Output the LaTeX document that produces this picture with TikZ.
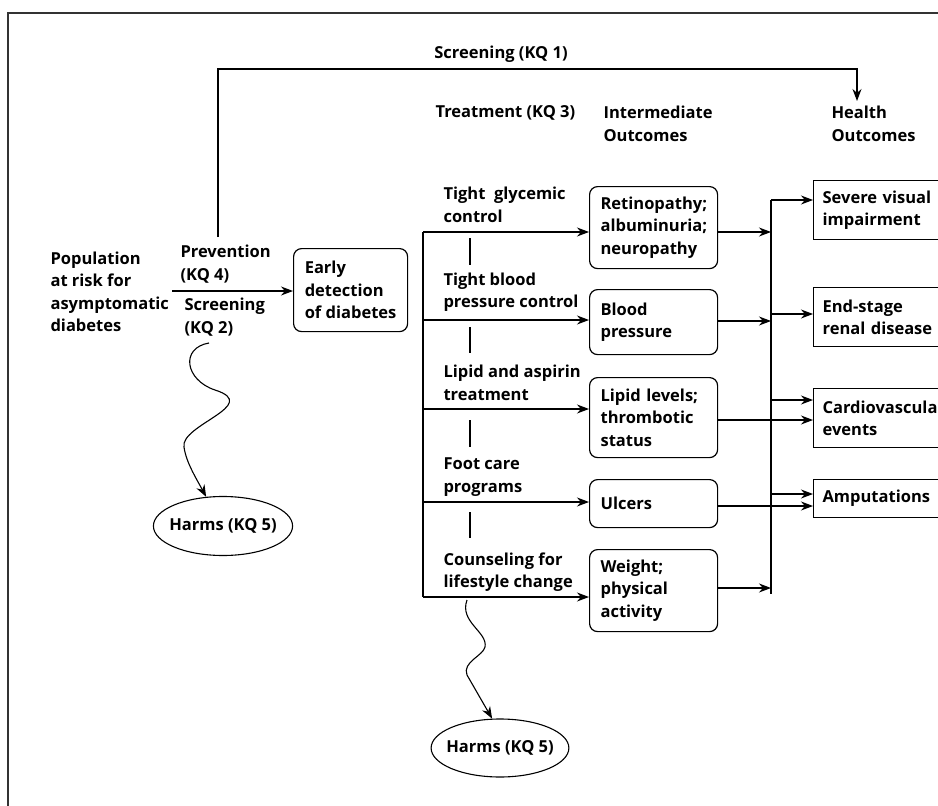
\documentclass[tikz,border=0pt]{standalone}
\usepackage{fontspec}
\setmainfont{Open Sans}
\usetikzlibrary{arrows.meta,shapes.geometric}
\begin{document}
\begin{tikzpicture}[x=1pt,y=-1pt,
  font=\fontsize{16.5}{22.5}\selectfont\bfseries,
  line width=1.1pt,
  lbl/.style={inner sep=0pt, align=left, anchor=west},
  arr/.style={-{Stealth[length=12pt,width=9pt]}},
  ibox/.style={draw, rounded corners=8pt, line width=1.2pt, text width=106pt, inner xsep=11pt, inner ysep=0pt, align=left, anchor=north west},
  hbox/.style={draw, line width=1.2pt, text width=140pt, inner xsep=9pt, inner ysep=0pt, align=left, anchor=north west},
  harm/.style={draw, ellipse, inner ysep=0pt, line width=1.1pt}
]
\useasboundingbox (0,0) rectangle (938,806);
\clip (0,0) rectangle (938,806);
% frame
\draw[line width=1.4pt, black!80] (8,820) -- (8,13) -- (950,13);

% left part
\node[lbl] (pop) at (50,292) {Population\\at risk for\\asymptomatic\\diabetes};
\node[lbl] (prev) at (180,264) {Prevention\\(KQ 4)};
\node[lbl] (scr2) at (184,317) {Screening\\(KQ 2)};
\node[draw, rounded corners=8pt, line width=1.2pt, anchor=north west, minimum width=114pt, minimum height=83pt, inner xsep=0pt, inner ysep=0pt, align=left] (early) at (293,248) {Early\\detection\\of diabetes};
\coordinate (popout) at (172,291);
\draw[arr] (popout) -- (popout -| early.west);

\node[harm, inner xsep=-4.5pt, minimum height=59pt] (harms1) at (223,526) {Harms (KQ 5)};
\coordinate (w1s) at (209,343);
\draw[arr] (w1s) .. controls (180,348) and (185,380) .. (215,390)
  .. controls (262,405) and (180,425) .. (184,447)
  .. controls (186,462) and (196,478) .. (harms1.120);

% KQ1
\node[anchor=center, inner sep=0pt] (kq1) at (501,54) {Screening (KQ 1)};
\coordinate (kq1s) at (218,237);
\coordinate (kq1c) at (857,69);
\coordinate (kq1t) at (857,101);
\draw[arr] (kq1s) |- (kq1c) -- (kq1t);

% headers
\node[lbl] (trt) at (435,113) {Treatment (KQ 3)};
\node[lbl] (imo) at (603,124) {Intermediate\\Outcomes};
\node[lbl] (hoh) at (831,124) {Health\\Outcomes};

% treatment labels
\node[lbl] (t1) at (443,205) {Tight\ \ glycemic\\control};
\node[lbl] (t2) at (443,292) {Tight blood\\pressure control};
\node[lbl] (t3) at (443,383) {Lipid and aspirin\\treatment};
\node[lbl] (t4) at (443,477) {Foot care\\programs};
\node[lbl] (t5) at (443,572) {Counseling for\\lifestyle change};

% ticks
\foreach \a/\b in {238/265, 327/353, 420/447, 512/538}
  \draw (470,\a) -- (470,\b);

% intermediate boxes
\node[ibox, minimum height=82pt] (ib1) at (589,186) {Retinopathy;\\albuminuria;\\neuropathy};
\node[ibox, minimum height=65pt] (ib2) at (589,289) {Blood\\pressure};
\node[ibox, minimum height=80pt] (ib3) at (589,377) {Lipid levels;\\thrombotic\\status};
\node[ibox, minimum height=48pt] (ib4) at (589,479) {Ulcers};
\node[ibox, minimum height=82pt] (ib5) at (589,549) {Weight;\\physical\\activity};

% treatment bar
\coordinate (tb1) at (423,232);
\coordinate (tb2) at (423,320);
\coordinate (tb3) at (423,409);
\coordinate (tb4) at (423,502);
\coordinate (tb5) at (423,597);
\draw (tb1) -- (tb5);
\draw[arr] (tb1) -- (tb1 -| ib1.west);
\draw[arr] (tb2) -- (tb2 -| ib2.west);
\draw[arr] (tb3) -- (tb3 -| ib3.west);
\draw[arr] (tb4) -- (tb4 -| ib4.west);
\draw[arr] (tb5) -- (tb5 -| ib5.west);

% harms 2
\node[harm, inner xsep=-5pt, minimum height=58pt] (harms2) at (500,748) {Harms (KQ 5)};
\coordinate (w2s) at (467,600);
\draw[arr] (w2s) .. controls (459,622) and (488,632) .. (485,647)
  .. controls (483,656) and (462,662) .. (467,675) -- (harms2.105);

% health boxes
\node[hbox, minimum height=59pt] (h1) at (813,180) {Severe visual\\impairment};
\node[hbox, minimum height=59pt] (h2) at (813,287) {End-stage\\renal disease};
\node[hbox, minimum height=59pt] (h3) at (813,388) {Cardiovascular\\events};
\node[hbox, minimum height=38pt] (h4) at (813,479) {Amputations};

% right bar
\coordinate (rbt) at (771,200);
\coordinate (rbb) at (771,594);
\draw (rbt) -- (rbb);
\coordinate (o1) at (ib1.east |- tb1);
\coordinate (o2) at (717,321);
\coordinate (o3) at (717,420);
\coordinate (o4) at (717,506);
\coordinate (o5) at (717,588);
\draw[arr] (o1) -- (o1 -| rbt);
\draw[arr] (o2) -- (o2 -| rbt);
\draw[arr] (o5) -- (o5 -| rbt);
\draw[arr] (o3) -- (o3 -| h3.west);
\draw[arr] (o4) -- (o4 -| h4.west);
\coordinate (r1) at (771,200);
\coordinate (r2) at (771,314);
\coordinate (r3) at (771,400);
\coordinate (r4) at (771,494);
\draw[arr] (r1) -- (r1 -| h1.west);
\draw[arr] (r2) -- (r2 -| h2.west);
\draw[arr] (r3) -- (r3 -| h3.west);
\draw[arr] (r4) -- (r4 -| h4.west);
\end{tikzpicture}
\end{document}
